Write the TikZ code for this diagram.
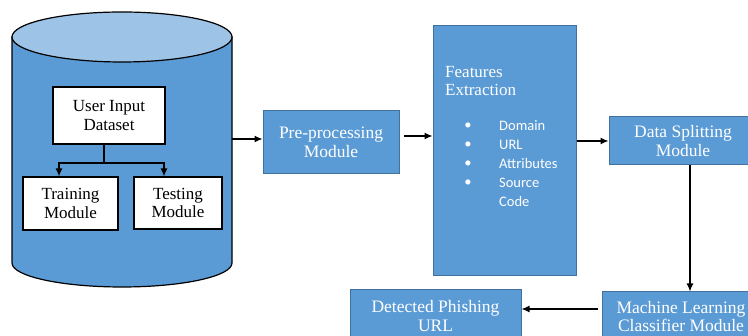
\documentclass[tikz,border=0pt]{standalone}
\usepackage{fontspec}
\setmainfont{Liberation Serif}
\newfontfamily\calibrifont{Carlito}
\usetikzlibrary{arrows.meta}
\definecolor{dbblue}{RGB}{91,155,213}
\definecolor{dbtop}{RGB}{157,195,230}
\definecolor{dbedge}{RGB}{65,113,156}
\tikzset{
  whitebox/.style={draw=black, line width=1.2pt, fill=white, align=center, inner sep=0pt, font=\fontsize{17}{18.5}\selectfont},
  bluebox/.style={draw=dbedge, line width=1pt, fill=dbblue, text=white, align=center, inner sep=0pt, font=\fontsize{17.5}{18.5}\selectfont},
  flow/.style={line width=1.2pt, -{Latex[length=8pt,width=7pt]}},
  item/.style={text=white, anchor=west, inner sep=0pt, font=\calibrifont\fontsize{14.5}{19}\selectfont},
}
\begin{document}
\begin{tikzpicture}[x=1pt,y=1pt]
  \useasboundingbox (0,0) rectangle (748,336);
  % database cylinder
  \def\cx{122}
  \def\rx{110}
  \draw[line width=1.2pt, fill=dbblue] (\cx-\rx,299) -- (\cx-\rx,73) arc[start angle=180, end angle=360, x radius=\rx, y radius=24] -- (\cx+\rx,299) -- cycle;
  \draw[line width=1.2pt, fill=dbtop] (\cx,299) ellipse[x radius=\rx, y radius=25];
  % inside the database
  \node[whitebox, minimum width=112pt, minimum height=57pt] (user) at (109,220.5) {User Input\\Dataset};
  \node[whitebox, minimum width=95pt, minimum height=53pt] (train) at (70.5,132.5) {Training\\Module};
  \node[whitebox, minimum width=88pt, minimum height=52pt] (test) at (178,133) {Testing\\Module};
  \coordinate (fork) at (104,173);
  \draw[line width=1.2pt] (fork |- user.south) -- (fork);
  \draw[flow] (fork) -| ([xshift=-11.5pt]train.north);
  \draw[flow] (fork) -| ([xshift=-14pt]test.north);
  % processing pipeline
  \node[bluebox, minimum width=136pt, minimum height=63pt] (pre) at (331,193.5) {Pre-processing\\Module};
  \node[bluebox, minimum width=143pt, minimum height=250pt] (feat) at (504.5,185) {};
  \node[bluebox, minimum width=148pt, minimum height=48pt] (split) at (683,195) {Data Splitting\\Module};
  \node[bluebox, minimum width=158pt, minimum height=49pt] (ml) at (681,19.5) {Machine Learning\\Classifier Module};
  \node[bluebox, minimum width=171pt, minimum height=52pt] (det) at (435.5,20) {Detected Phishing\\URL};
  % features list
  \node[text=white, anchor=west, align=left, inner sep=0pt, font=\fontsize{17}{18.5}\selectfont] (fhead) at (445,255) {Features\\Extraction};
  \foreach \t [count=\i] in {Domain,URL,Attributes,Source}{
    \node[item, anchor=center] (dot\i) at (468,229-19*\i) {\textbullet};
    \node[item] (it\i) at (499,229-19*\i) {\t};
  }
  \node[item] (it5) at (499,134) {Code};
  % connectors
  \coordinate (dbR) at (\cx+\rx,197);
  \draw[flow] (dbR) -- (dbR -| pre.west);
  \coordinate (preR) at ([xshift=4pt,yshift=6.5pt]pre.east);
  \draw[flow] (preR) -- (preR -| feat.west);
  \draw[flow] (feat.east |- split.west) -- (split.west);
  \draw[flow] ([xshift=7pt]split.south) -- ([xshift=7pt]split.south |- ml.north);
  \coordinate (mlL) at ([xshift=-4pt,yshift=7.5pt]ml.west);
  \draw[flow] (mlL) -- (mlL -| det.east);
\end{tikzpicture}
\end{document}
